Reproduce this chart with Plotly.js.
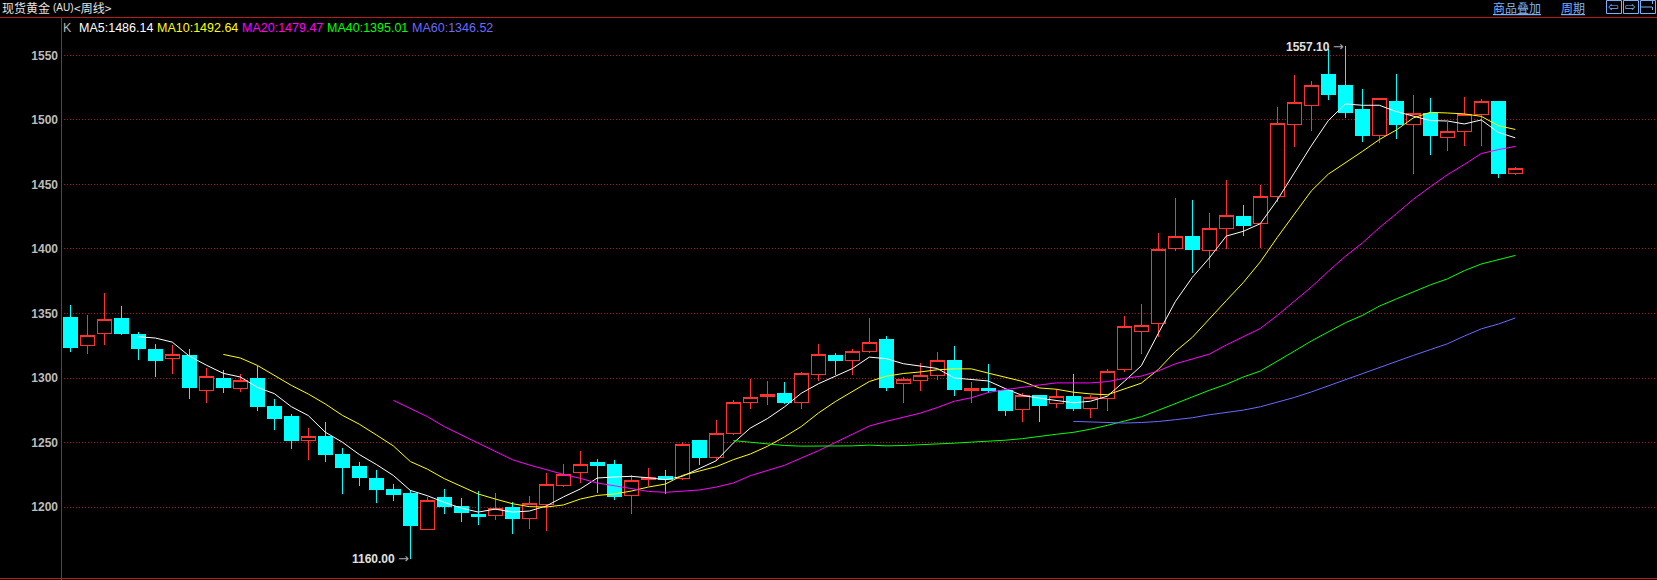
<!DOCTYPE html>
<html>
<head>
<meta charset="utf-8">
<script src="https://cdn.plot.ly/plotly-3.0.1.min.js"></script>
<style>html,body{margin:0;padding:0;background:#000;overflow:hidden}#chart{width:1657px;height:580px}.boxlayer path{shape-rendering:crispEdges}</style>
</head>
<body>
<div id="chart"></div>
<script>
const opens=[1347.2,1325,1334.3,1346.4,1334,1322.4,1315,1317.8,1290.2,1300,1291.5,1300,1277.6,1269.8,1251.3,1254.4,1240.5,1231.2,1221.9,1213.4,1210.3,1182.7,1207.2,1200.3,1194,1193.5,1199.5,1191.2,1202.1,1216.8,1226.9,1234.4,1232.8,1209,1221.4,1223.3,1222.2,1251.3,1238.5,1256.9,1280.8,1285.4,1288.2,1280.8,1303,1317.3,1313.7,1320.6,1329.7,1295.4,1297.7,1302.3,1313.3,1290.3,1291.8,1290.3,1275.3,1286.5,1280.6,1285.7,1276.7,1284.4,1306.6,1335.7,1341.9,1400.5,1409.3,1399.2,1415.5,1424.8,1419.4,1440.3,1496.6,1511.4,1535.1,1526.6,1508,1487.9,1514.2,1496.6,1504.9,1486.6,1491.2,1504.4,1514.2,1458.7];
const highs=[1356.4,1348.7,1365.7,1355.7,1335.6,1326.3,1325.5,1322.4,1307.7,1306.2,1303,1309.3,1283.8,1272.2,1261.3,1266,1245.9,1235,1228.9,1218,1213.4,1208,1214.2,1207.2,1212.7,1211.1,1204.1,1208.8,1226.6,1233.6,1243.7,1237.5,1236.7,1225,1230.5,1228.9,1250.3,1252,1267.4,1282.8,1299,1297.4,1296.7,1304.4,1326.7,1319.6,1322.6,1346.4,1332.8,1301,1312,1320.5,1324.8,1297.2,1311,1291,1288,1287.2,1291.8,1303.3,1287.2,1307.1,1347.7,1357.6,1412.7,1439.8,1438.2,1428.2,1453.7,1434.4,1449.9,1510.3,1535.1,1530.5,1555,1557.1,1524.3,1517.3,1535.9,1519.6,1517.3,1498.7,1518.1,1516.3,1515,1463.8];
const lows=[1320.4,1318.8,1325.5,1333.2,1313.9,1300.8,1303,1283.8,1280.7,1288.4,1289.2,1274.5,1259.8,1245.1,1236.6,1235,1210.3,1216.5,1203.4,1204.9,1160,1182,1194.8,1188.6,1186.3,1190.2,1179.3,1183.2,1181.7,1215.8,1218.9,1210.9,1205.7,1194.8,1216.5,1210.3,1220.7,1232.8,1235.4,1256,1275.9,1279,1279.7,1275.9,1297.4,1302,1302,1319.6,1289.7,1280.5,1289.7,1298.2,1286.4,1280.3,1288,1270.4,1265.8,1265.8,1276.5,1274.2,1268.8,1274.2,1304.8,1318.6,1331.6,1398.2,1381.7,1385.5,1399.7,1410.3,1400.5,1436.5,1479.3,1491.7,1515.8,1501.8,1483.2,1482.4,1485.5,1458.4,1473.1,1476.2,1480.1,1480.1,1455.3,1457.6];
const closes=[1324,1333,1345.4,1334.8,1323.2,1313.9,1318.6,1292.3,1301.3,1292.3,1298.2,1277.6,1269,1251.3,1254.4,1240.5,1230.4,1222.7,1213.4,1209.5,1185.6,1205.4,1200.3,1195.6,1192.5,1199.2,1191,1203.1,1217.8,1225.6,1232.6,1232,1208,1220.9,1223,1221.2,1248.7,1238.2,1256.7,1281,1284.9,1287.2,1281.3,1303.3,1318,1313.4,1320.9,1327.7,1292.8,1298.7,1301.8,1313.3,1291,1291.8,1290.3,1275,1286.2,1278.8,1285.4,1276.5,1284.6,1305.4,1339.8,1340.6,1399.5,1409.3,1399.7,1415.5,1425.6,1418.3,1441,1496.9,1513.2,1526.4,1519.6,1505.7,1487.9,1517,1496.4,1504.7,1487.9,1490.7,1503.9,1514,1458.4,1462];

const ma5=[1332,1331,1327.8,1317,1310,1303.6,1300.8,1292.8,1287.9,1277.8,1270.9,1258,1250.3,1240.7,1233,1224.5,1212.9,1208.8,1203.6,1199.2,1196.1,1198.4,1196.1,1196.9,1200.8,1207.8,1214,1222.5,1223.3,1223.8,1222.7,1221.2,1223.8,1229.7,1235.9,1249.6,1261.2,1268.5,1277.5,1288.2,1295.5,1301.4,1307.3,1316.2,1315,1311.1,1309,1307.4,1300,1299,1297.7,1291.8,1286.5,1284.4,1282.6,1280.8,1282,1285.9,1297.4,1309.5,1334.6,1359.2,1378,1393,1410,1413.7,1419.6,1438,1459,1480,1499.5,1512.4,1511.4,1511.4,1506.5,1502.8,1499.5,1499.2,1496.9,1500,1490.4,1486.14];
const ma10=[1318.3,1315.5,1309.8,1301.8,1294.3,1287.6,1279.9,1271.1,1264.2,1255.9,1247.4,1235.3,1229.4,1222,1216,1210.1,1206.2,1202.6,1200.3,1200,1201.6,1206.2,1209,1210.1,1212.4,1215.5,1217.8,1224.5,1227.9,1231.3,1236.7,1241.1,1247,1254.3,1262.4,1272.8,1281.7,1289.4,1297.3,1301.4,1303.5,1304.7,1306.4,1307.1,1307.1,1303.8,1300.5,1297.4,1292.3,1291.3,1289,1287.7,1287,1291.8,1296,1306.6,1320.5,1331.5,1346,1360,1374,1390,1409,1427,1445,1458,1466.5,1475.6,1484.8,1492.2,1501.6,1505.9,1505.4,1504.7,1502.8,1495.6,1492.64];
const ma20=[1282.7,1276.5,1270.1,1262.3,1255.8,1249.6,1243.4,1236.7,1232.6,1228.9,1225.3,1222.2,1218.6,1216.5,1214.2,1212.1,1211.4,1212.1,1213.2,1215.5,1218.6,1224.3,1228.2,1232.3,1238,1243.6,1250,1256.1,1262.8,1266.4,1269.9,1272.8,1277.1,1282,1284.7,1288.8,1291,1293,1294.6,1296.2,1296.2,1296.2,1297.2,1299.7,1301.5,1305.5,1311,1314.9,1318.5,1325.6,1332,1338.4,1348.5,1359.3,1370.5,1382.7,1394.3,1404.6,1416.5,1427.3,1438.5,1448.2,1457.5,1465.5,1474,1477,1479.47];
const ma40=[1251.5,1250.3,1249,1247.7,1247.2,1247.2,1247.2,1247.4,1248,1247.4,1247.7,1248.2,1248.7,1249.5,1250.3,1251,1251.8,1253,1254.9,1256.4,1257.9,1260.3,1263.3,1266.5,1270,1275,1280.3,1285.4,1290.5,1295.1,1300.8,1305.4,1312.8,1320.8,1328.7,1336,1342.8,1348.5,1355.7,1361.3,1367,1372.2,1376.8,1383.2,1388.4,1391.5,1395.01];
const ma60=[1266.4,1265.9,1265.6,1265.1,1265.5,1266.3,1267.7,1269.2,1271.5,1273.1,1275.1,1277.7,1281.3,1284.9,1289.2,1294,1298.6,1303,1308,1312.8,1317.5,1322,1326.5,1332.5,1338.1,1341.8,1346.52];
const maNames=["MA5","MA10","MA20","MA40","MA60"];
const maColors=["#ffffff","#ffff00","#ff00ff","#00ff00","#6a6aff"];
const maSeries=[ma5,ma10,ma20,ma40,ma60];
const yTicks=[1200,1250,1300,1350,1400,1450,1500,1550];
const lowLabel="1160.00", highLabel="1557.10";

const W=1657,H=580,ml=61,mt=17,mb=2;
const px=x=>(x-ml)/(W-ml), py=y=>1-(y-mt)/(H-mt-mb);
const idx=opens.map((_,i)=>i);
const traces=[{
  type:'candlestick',x:idx,open:opens,high:highs,low:lows,close:closes,
  whiskerwidth:0,hoverinfo:'skip',
  increasing:{line:{color:'#ff3232',width:1},fillcolor:'#000000'},
  decreasing:{line:{color:'#00ffff',width:1},fillcolor:'#00ffff'},
  showlegend:false
}];
maSeries.forEach((s,k)=>{
  const offset=opens.length-s.length;
  traces.push({type:'scatter',mode:'lines',x:s.map((_,i)=>i+offset),y:s,
    line:{color:maColors[k],width:1},hoverinfo:'skip',showlegend:false});
});
const redLine='#b81c14';
const shapes=[
 {type:'line',xref:'paper',yref:'paper',x0:px(0),x1:px(W),y0:py(17.5),y1:py(17.5),line:{color:redLine,width:1}},
 {type:'line',xref:'paper',yref:'paper',x0:px(0),x1:px(W),y0:py(578.5),y1:py(578.5),line:{color:redLine,width:1}},
 {type:'line',xref:'paper',yref:'paper',x0:px(61.5),x1:px(61.5),y0:py(17),y1:py(580),line:{color:redLine,width:1}}
];
const btnBlue='#7ab0f8';
[[1606.5,1621.5],[1623.5,1638.5],[1640.5,1655.5]].forEach(b=>{
  shapes.push({type:'rect',xref:'paper',yref:'paper',x0:px(b[0]),x1:px(b[1]),y0:py(0.5),y1:py(13.5),line:{color:btnBlue,width:1},fillcolor:'rgba(0,0,0,0)'});
});
shapes.push({type:'line',xref:'paper',yref:'paper',x0:px(1640.5),x1:px(1652),y0:py(7),y1:py(7),line:{color:btnBlue,width:1}});
shapes.push({type:'line',xref:'paper',yref:'paper',x0:px(1652.5),x1:px(1652.5),y0:py(1),y1:py(13),line:{color:btnBlue,width:1,dash:'dot'}});
const ann=(x,y,text,color,size,extra)=>Object.assign({xref:'paper',yref:'paper',x:px(x),y:py(y),text:text,showarrow:false,
  xanchor:'left',yanchor:'middle',align:'left',borderpad:0,
  font:{family:'"Liberation Sans",Arial,sans-serif',size:size,color:color}},extra||{});
const cjk='"Noto Sans CJK SC",sans-serif';
const titleColor='#e4e4e4';
const annotations=[
 ann(1,8,'现货黄金',titleColor,12,{font:{family:cjk,size:12,color:titleColor}}),
 ann(52,8,'(AU)',titleColor,10,{font:{family:'"Liberation Sans"',size:10,color:titleColor}}),
 ann(73,8,'&lt;周线&gt;',titleColor,12,{font:{family:cjk,size:12,color:titleColor}}),
 ann(1492,7,'<u>商品叠加</u>',btnBlue,12,{font:{family:cjk,size:12,color:btnBlue}}),
 ann(1560,7,'<u>周期</u>',btnBlue,12,{font:{family:cjk,size:12,color:btnBlue}}),
 ann(1607,6,'⇦',btnBlue,13,{font:{family:'"DejaVu Sans"',size:13,color:btnBlue}}),
 ann(1624,6,'⇨',btnBlue,13,{font:{family:'"DejaVu Sans"',size:13,color:btnBlue}}),
 ann(62,28,'K','#b8b8b8',12.5)
];
const maX=[78,156,240.5,325.5,410.5];
maNames.forEach((n,k)=>{
  const s=maSeries[k];
  annotations.push(ann(maX[k],28,n+':'+s[s.length-1].toFixed(2),maColors[k],12.5));
});
const extreme=(x,y,label)=>({xref:'x',yref:'y',x:x,y:y,
  text:'<b>'+label+'</b> <span style="font-family:DejaVu Sans;font-size:13px;color:#a8a8a8">→</span>',showarrow:false,xanchor:'right',yanchor:'middle',
  font:{family:'"Liberation Sans",Arial,sans-serif',size:12,color:'#e0e0e0'},borderpad:0});
annotations.push(extreme(75,highs[75],highLabel));
annotations.push(extreme(20,lows[20],lowLabel));

const layout={
  width:W,height:H,paper_bgcolor:'#000',plot_bgcolor:'#000',
  margin:{l:ml,r:0,t:mt,b:mb,pad:0},boxgap:0.18,boxgroupgap:0,showlegend:false,
  xaxis:{type:'linear',range:[(61-70.3)/17,(1657-70.3)/17],rangeslider:{visible:false},showgrid:false,zeroline:false,showticklabels:false,ticks:'',showline:false},
  yaxis:{type:'linear',range:[1145,1579.8],tickmode:'array',tickvals:yTicks,ticktext:yTicks.map(String),
    showgrid:true,gridcolor:'#a01c14',griddash:'1px,2px',gridwidth:1,zeroline:false,showline:false,ticks:'',ticklabelstandoff:2,
    tickfont:{family:'"Liberation Sans",Arial,sans-serif',size:12,color:'#bcbcbc',weight:'bold'}},
  shapes:shapes,annotations:annotations
};
Plotly.newPlot('chart',traces,layout,{displayModeBar:false,staticPlot:true});
</script>
</body>
</html>
